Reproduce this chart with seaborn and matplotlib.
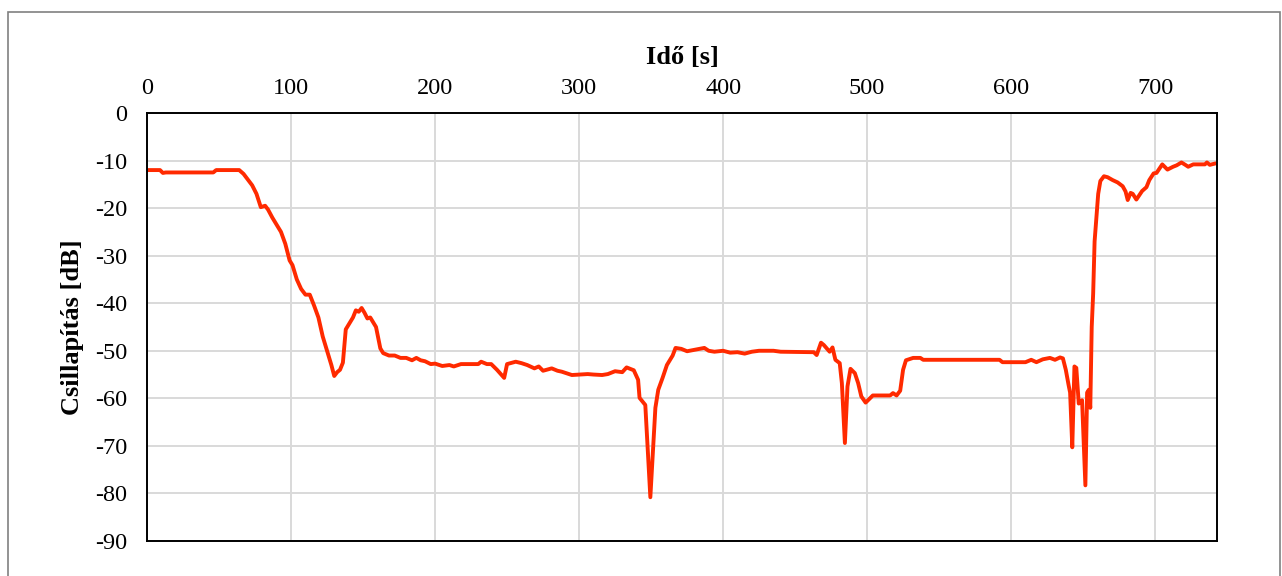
import numpy as np
import pandas as pd
import seaborn as sns
import matplotlib.pyplot as plt
from matplotlib.patches import Rectangle

# time [s] and attenuation [dB]
ido = [0, 9, 11, 13, 46, 48, 64, 67, 70, 73, 76, 79, 82, 84, 87, 90, 93, 96, 99, 101,
       104, 107, 110, 113, 116, 119, 122, 125, 128, 130, 132, 134, 136, 138, 140, 143, 145, 147, 149, 151,
       153, 155, 157, 159, 162, 164, 168, 172, 176, 180, 184, 187, 190, 193, 197, 200, 205, 210, 213, 218,
       225, 230, 232, 236, 239, 243, 248, 250, 256, 260, 264, 269, 272, 275, 281, 285, 288, 295, 300, 306,
       310, 316, 320, 325, 330, 333, 338, 341, 342, 346, 349.5, 353, 355, 358, 361, 365, 367, 371, 375, 380,
       387, 390, 394, 400, 405, 410, 415, 420, 425, 435, 440, 463, 465, 468, 470, 474, 476, 478, 481, 482.5,
       484.6, 486.4, 488.5, 491.5, 493.8, 496, 499, 502, 504, 516, 518, 520.5, 523, 525, 527, 532, 537, 539, 592, 594,
       610, 614, 617.6, 622, 627, 630.5, 634, 636, 638, 640, 641, 642.5, 644, 645.3, 647, 649.3, 651.6, 652.8, 654, 655,
       656, 657, 658, 659, 660.5, 662, 664.5, 667, 670.5, 674, 677.5, 679.5, 681, 683, 684.5, 687, 691, 694, 696, 699,
       701, 705, 708.6, 712.5, 715, 718.3, 721, 723, 726.5, 734.6, 736, 738, 742]
csillapitas = [-12, -12, -12.6, -12.5, -12.5, -12, -12, -12.8, -14, -15.2, -17, -19.8, -19.5, -20.3, -22, -23.5, -25, -27.5, -31, -32,
               -35, -37, -38.2, -38.2, -40.5, -43, -47, -50, -53, -55.3, -54.5, -54, -52.5, -45.5, -44.5, -43, -41.5, -41.8, -41, -42,
               -43.2, -43, -44, -45, -49.5, -50.5, -51, -51, -51.5, -51.5, -52, -51.5, -52, -52.2, -52.8, -52.7, -53.2, -53, -53.3, -52.8,
               -52.8, -52.8, -52.3, -52.8, -52.8, -54, -55.7, -52.8, -52.3, -52.6, -53, -53.7, -53.3, -54.2, -53.7, -54.2, -54.4, -55.1, -55, -54.9,
               -55, -55.1, -54.9, -54.3, -54.5, -53.5, -54.1, -56.1, -59.9, -61.4, -80.8, -62, -58.2, -55.7, -53, -51, -49.4, -49.6, -50.1, -49.8,
               -49.4, -50, -50.2, -50, -50.4, -50.3, -50.6, -50.2, -50, -50, -50.2, -50.3, -50.9, -48.3, -48.8, -50.2, -49.3, -51.9, -52.6, -56.8,
               -69.4, -57.5, -53.8, -54.7, -56.8, -59.6, -60.9, -60, -59.4, -59.4, -58.9, -59.4, -58.4, -54, -52, -51.5, -51.5, -51.9, -51.9, -52.4,
               -52.4, -51.9, -52.4, -51.8, -51.5, -51.9, -51.4, -51.6, -54, -57.3, -58.8, -70.3, -53.3, -53.6, -61.1, -60.4, -78.3, -58.8, -58.2, -62,
               -45, -38, -27, -23, -17, -14.3, -13.3, -13.5, -14.1, -14.6, -15.4, -16.5, -18.3, -16.8, -17, -18.2, -16.4, -15.6, -14.1, -12.7,
               -12.6, -10.8, -11.9, -11.3, -11, -10.4, -10.9, -11.3, -10.8, -10.8, -10.4, -10.9, -10.6]

df = pd.DataFrame({'Idő [s]': ido, 'Csillapítás [dB]': csillapitas})

sns.set_style('white')
plt.rcParams['font.family'] = ['Liberation Serif', 'DejaVu Serif']
plt.rcParams['axes.unicode_minus'] = False
plt.rcParams['text.color'] = 'black'
plt.rcParams['axes.labelcolor'] = 'black'
plt.rcParams['xtick.color'] = 'black'
plt.rcParams['ytick.color'] = 'black'

fig = plt.figure(figsize=(12.82, 5.76), dpi=100)
ax = fig.add_axes([0.1147, 0.0608, 0.8346, 0.743])

sns.lineplot(data=df, x='Idő [s]', y='Csillapítás [dB]', color='#ff2a00', linewidth=2.8, ax=ax)

ax.set_xlim(0, 743)
ax.set_ylim(-90, 0)
ax.set_xticks(np.arange(0, 701, 100))
ax.set_yticks(np.arange(-90, 1, 10))
ax.xaxis.tick_top()
ax.xaxis.set_label_position('top')
ax.grid(True, color='#d9d9d9', linewidth=1.4)
ax.set_axisbelow(True)
ax.tick_params(length=0, labelsize=17.5, labelcolor='black')
ax.tick_params(axis='x', pad=10)
ax.tick_params(axis='y', pad=14)
ax.set_xlabel('Idő [s]', fontsize=19, fontweight='bold', labelpad=10, color='black')
ax.set_ylabel('Csillapítás [dB]', fontsize=19, fontweight='bold', labelpad=8, color='black')
for s in ax.spines.values():
    s.set_color('black')
    s.set_linewidth(1.4)

# outer frame
fig.patches.append(Rectangle((0.0062, -0.1), 0.9922, 1.079, transform=fig.transFigure,
                             fill=False, edgecolor='#808080', linewidth=1.2))

fig.savefig('out.png', dpi=100)
